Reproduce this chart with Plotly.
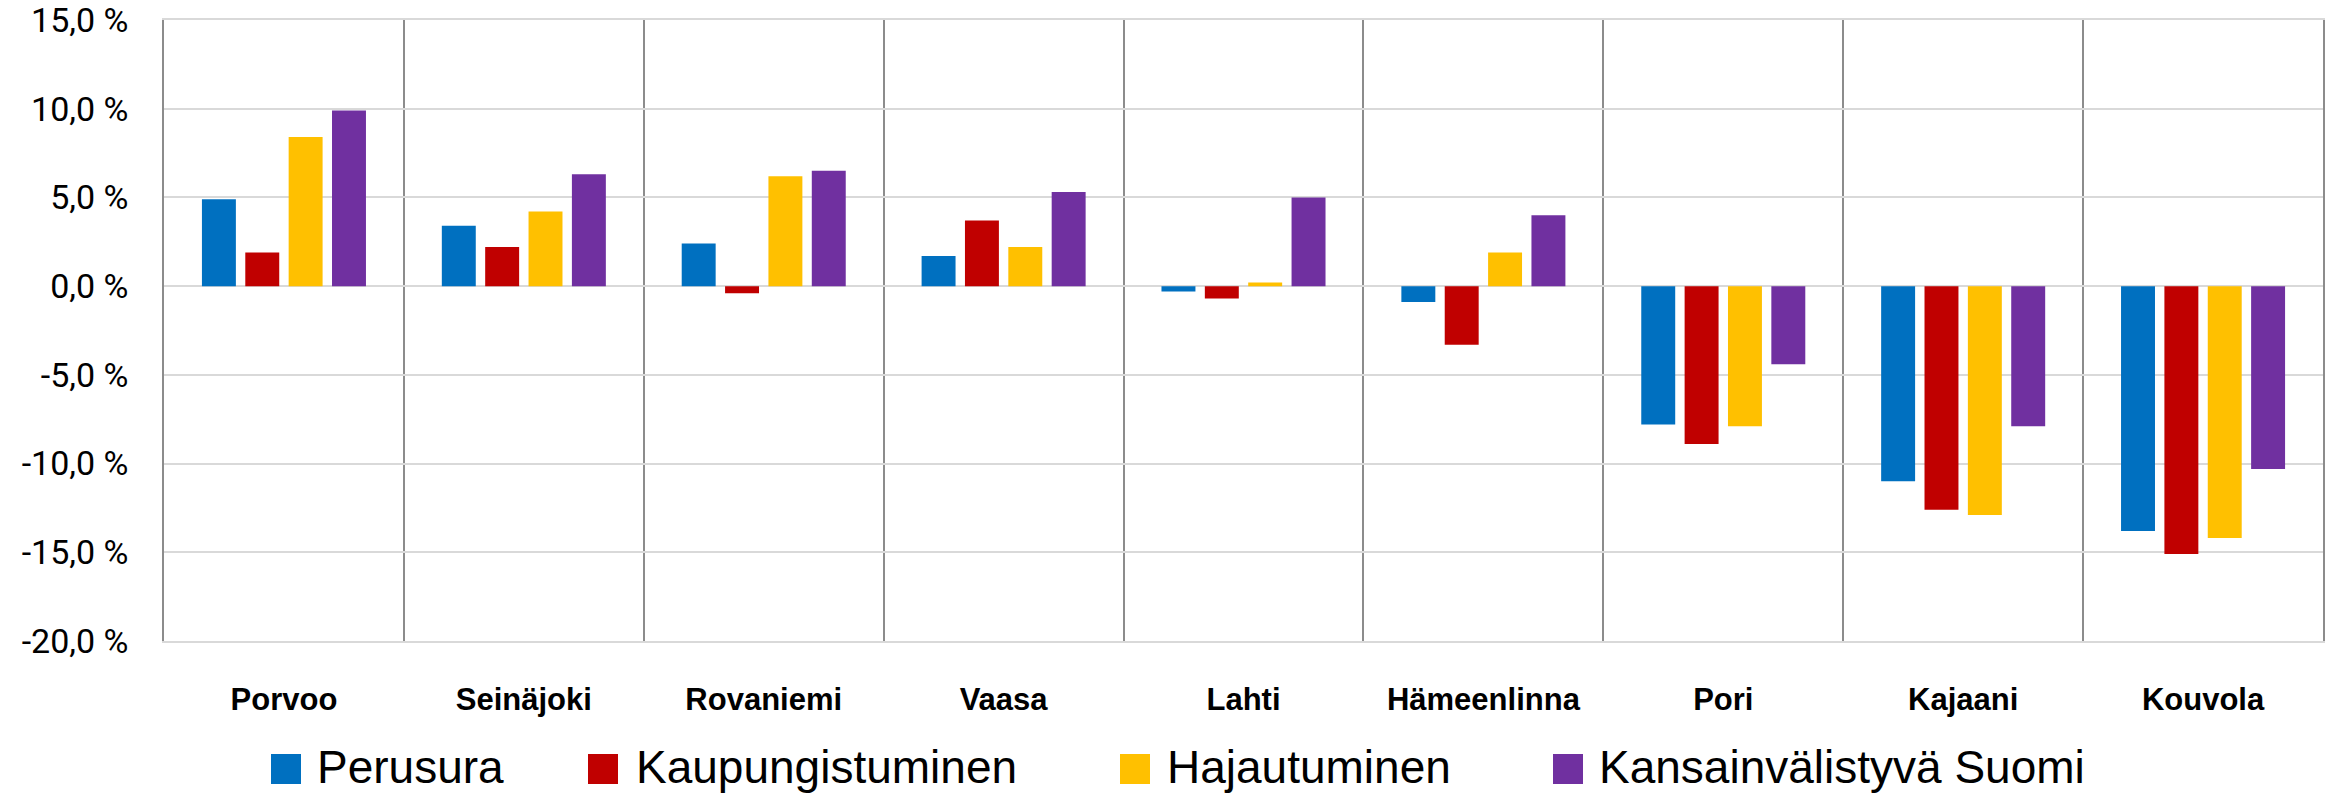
import plotly.graph_objects as go

# ---- data ----
cities = ["Porvoo", "Seinäjoki", "Rovaniemi", "Vaasa", "Lahti", "Hämeenlinna", "Pori", "Kajaani", "Kouvola"]
series_names = ["Perusura", "Kaupungistuminen", "Hajautuminen", "Kansainvälistyvä Suomi"]
perusura = [4.9, 3.4, 2.4, 1.7, -0.3, -0.9, -7.8, -11.0, -13.8]
kaupungistuminen = [1.9, 2.2, -0.4, 3.7, -0.7, -3.3, -8.9, -12.6, -15.1]
hajautuminen = [8.4, 4.2, 6.2, 2.2, 0.2, 1.9, -7.9, -12.9, -14.2]
kansainvalistyva = [9.9, 6.3, 6.5, 5.3, 5.0, 4.0, -4.4, -7.9, -10.3]
y_tick_values = [-20, -15, -10, -5, 0, 5, 10, 15]
y_tick_labels = ["-20,0 %", "-15,0 %", "-10,0 %", "-5,0 %", "0,0 %", "5,0 %", "10,0 %", "15,0 %"]

colors = ["#0070C0", "#C00000", "#FFC000", "#7030A0"]
all_values = [perusura, kaupungistuminen, hajautuminen, kansainvalistyva]

W, H = 2331, 793
L, R, T, B = 164, 8, 20, 152
PW = W - L - R
PH = H - T - B

def px_x(p):
    return (p - L) / PW

def px_y(p):
    return (H - B - p) / PH

fig = go.Figure()
for name, vals, col in zip(series_names, all_values, colors):
    fig.add_trace(go.Bar(x=cities, y=vals, name=name, marker=dict(color=col, line=dict(width=0)),
                         showlegend=False))

FONT = "Liberation Sans"
TICKFONT = "Roboto"

# legend drawn as swatches + text below the plot
legend_items = [(271, 315), (588, 634), (1120, 1165), (1553, 1597)]
shapes = []
annotations = []
for (sx, tx), name, col in zip(legend_items, series_names, colors):
    shapes.append(dict(type="rect", xref="paper", yref="paper",
                       x0=px_x(sx), x1=px_x(sx + 30), y0=px_y(784), y1=px_y(754),
                       fillcolor=col, line=dict(width=0)))
    annotations.append(dict(xref="paper", yref="paper", x=px_x(tx), y=px_y(767),
                            xanchor="left", yanchor="middle", showarrow=False,
                            text=name, font=dict(family=FONT, size=46, color="#000000")))

fig.update_layout(
    width=W, height=H,
    margin=dict(l=L, r=R, t=T, b=B, pad=0, autoexpand=False),
    plot_bgcolor="white", paper_bgcolor="white",
    barmode="group", bargap=0.277, bargroupgap=0.217,
    font=dict(family=FONT, color="#000000"),
    shapes=shapes, annotations=annotations,
    xaxis=dict(tickson="boundaries", showgrid=True, gridcolor="#8c8c8c", gridwidth=1.5,
               ticks="", tickfont=dict(family=FONT, size=31, color="#000000", weight="bold"),
               ticklabelstandoff=30, showline=True, linecolor="#D9D9D9", linewidth=2,
               mirror=True, zeroline=False, automargin=False),
    yaxis=dict(range=[-20, 15], tickvals=y_tick_values, ticktext=y_tick_labels,
               showgrid=True, gridcolor="#D9D9D9", gridwidth=2,
               zeroline=True, zerolinecolor="#D9D9D9", zerolinewidth=2,
               showline=True, linecolor="#8c8c8c", linewidth=1.5, mirror=True,
               ticks="", ticklabelstandoff=27, ticklabeloverflow="allow", automargin=False,
               tickfont=dict(family=TICKFONT, size=34, color="#000000")),
)

fig.write_html("out.html", config={"displayModeBar": False},
               post_script="document.body.style.margin='0';document.body.style.overflow='hidden';")
